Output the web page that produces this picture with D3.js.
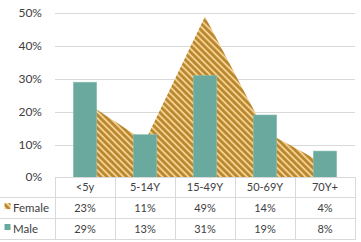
<!DOCTYPE html>
<html><head><meta charset="utf-8">
<script src="https://cdn.jsdelivr.net/npm/d3@7"></script>
<style>body{margin:0;background:#fff}svg{display:block;font-family:Lato,"Open Sans",sans-serif}</style>
</head><body><svg id="c" width="361" height="242"></svg>
<script>
const categories = ["<5y","5-14Y","15-49Y","50-69Y","70Y+"];
const female = [23,11,49,14,4];
const male = [29,13,31,19,8];
const yTicks = [0,10,20,30,40,50];
const seriesNames = ["Female","Male"];

(function(){
const svg = d3.select("#c");
const pLeft = 55, pRight = 355, pTop = 13.3, pBottom = 177.3;
const x = d3.scaleBand().domain(categories).range([pLeft,pRight]);
const y = d3.scaleLinear().domain([0,50]).range([pBottom,pTop]);
const txt = "#404040", grid = "#d9d9d9";

const defs = svg.append("defs");
const pat = defs.append("pattern").attr("id","hatch").attr("patternUnits","userSpaceOnUse")
  .attr("width",4.6).attr("height",4.6).attr("patternTransform","rotate(45)");
pat.append("rect").attr("width",4.6).attr("height",4.6).attr("fill","#b8862e");
pat.append("rect").attr("width",4.6).attr("height",1.9).attr("fill","#f3d08e");

// gridlines
svg.append("g").selectAll("line").data(yTicks.filter(d=>d>0)).join("line")
  .attr("x1",pLeft).attr("x2",pRight).attr("y1",d=>Math.round(y(d))+0.5).attr("y2",d=>Math.round(y(d))+0.5)
  .attr("stroke",grid).attr("stroke-width",1);

// y labels
svg.append("g").selectAll("text").data(yTicks).join("text")
  .attr("x",42).attr("y",d=>y(d)+4).attr("text-anchor","end")
  .attr("font-size",12).attr("fill",txt).text(d=>d+"%");

// area
const cx = c => x(c)+x.bandwidth()/2;
const area = d3.area().x((d,i)=>cx(categories[i])).y0(pBottom).y1(d=>y(d));
svg.append("path").datum(female).attr("d",area).attr("fill","url(#hatch)");

// bars
const bw = x.bandwidth()*0.39;
svg.append("g").selectAll("rect").data(male).join("rect")
  .attr("x",(d,i)=>cx(categories[i])-bw/2).attr("width",bw)
  .attr("y",d=>y(d)).attr("height",d=>pBottom-y(d))
  .attr("fill","#69a99e").attr("stroke","#8cc0b6").attr("stroke-width",0.6);

// table
const rowY = [177.3,197.3,218,239];
const tg = svg.append("g").attr("stroke",grid).attr("stroke-width",1);
tg.append("line").attr("x1",pLeft).attr("x2",pRight).attr("y1",177.5).attr("y2",177.5);
[197.5,218.5,239.5].forEach(v=>tg.append("line").attr("x1",0).attr("x2",pRight).attr("y1",v).attr("y2",v));
const bounds = categories.map(c=>x(c)).concat([pRight]);
bounds.forEach(b=>tg.append("line").attr("x1",Math.round(b)+0.5).attr("x2",Math.round(b)+0.5).attr("y1",177.3).attr("y2",240));

svg.append("g").selectAll("text").data(categories).join("text")
  .attr("x",c=>cx(c)).attr("y",191).attr("text-anchor","middle").attr("font-size",11).attr("fill",txt).text(c=>c);

const rows = [female, male];
rows.forEach((r,ri)=>{
  const yy = (rowY[ri+1]+rowY[ri+2])/2+4;
  svg.append("g").selectAll("text").data(r).join("text")
    .attr("x",(d,i)=>cx(categories[i])).attr("y",yy).attr("text-anchor","middle")
    .attr("font-size",11).attr("fill",txt).text(d=>d+"%");
  svg.append("text").attr("x",13).attr("y",yy).attr("font-size",11.5).attr("fill",txt).text(seriesNames[ri]);
  svg.append("rect").attr("x",4.5).attr("y",yy-8.5).attr("width",6).attr("height",6)
    .attr("fill",ri===0?"url(#hatch)":"#69a99e");
});
})();
</script></body></html>
